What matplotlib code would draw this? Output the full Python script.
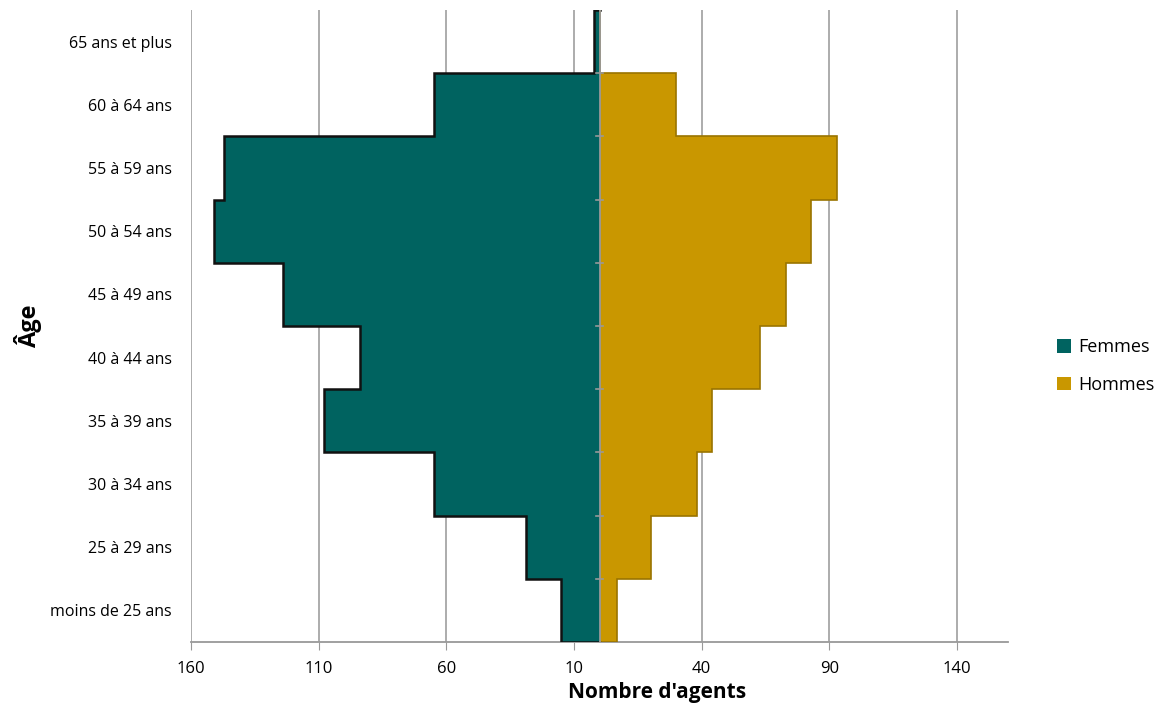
import matplotlib.pyplot as plt
import numpy as np

# Age groups, bottom to top
ages = ['moins de 25 ans', '25 à 29 ans', '30 à 34 ans', '35 à 39 ans', '40 à 44 ans',
        '45 à 49 ans', '50 à 54 ans', '55 à 59 ans', '60 à 64 ans', '65 ans et plus']
femmes = [15, 29, 65, 108, 94, 124, 151, 147, 65, 2]
hommes = [7, 20, 38, 44, 63, 73, 83, 93, 30, 0]

x_ticks = [-160, -110, -60, -10, 40, 90, 140]

plt.rcParams['font.family'] = ['Open Sans', 'DejaVu Sans']

fig = plt.figure(figsize=(11.6, 7.08), dpi=100)
ax = fig.add_axes([0.1647, 0.0932, 0.7043, 0.8927])

y = np.arange(len(ages))
f_neg = -np.array(femmes)
h_pos = np.array(hommes)

# Femmes on the left (negative), Hommes on the right
ax.barh(y, f_neg, height=1.0, color='#006360', linewidth=0, label='Femmes', zorder=3)
ax.barh(y, h_pos, height=1.0, color='#c99700', linewidth=0, label='Hommes', zorder=3)


def outline(vals):
    # stepped outer contour of the stacked age bars
    xs, ys = [0], [-0.5]
    for i, v in enumerate(vals):
        xs += [v, v]
        ys += [i - 0.5, i + 0.5]
    xs.append(0)
    ys.append(len(vals) - 0.5)
    return xs, ys


fx, fy = outline(f_neg)
ax.plot(fx, fy, color='#111111', linewidth=1.8, zorder=4, solid_joinstyle='miter')
hx, hy = outline(h_pos)
ax.plot(hx, hy, color='#9a7400', linewidth=1.2, zorder=4, solid_joinstyle='miter')

ax.set_xlim(-160, 160)
ax.set_ylim(-0.5, len(ages) - 0.5)
ax.set_xticks(x_ticks)
ax.set_xticklabels([str(abs(v)) for v in x_ticks], fontsize=12)
ax.set_yticks(y)
ax.set_yticklabels(ages, fontsize=11.5)
ax.tick_params(axis='y', length=0, pad=14)
ax.tick_params(axis='x', length=6, color='#999999', pad=8)

ax.grid(axis='x', color='#a6a6a6', linewidth=1.3, zorder=0)
ax.axvline(0, color='#999999', linewidth=1.3, zorder=5)
for b in np.arange(0.5, len(ages) - 1, 1.0):
    ax.plot([-1.5, 1.5], [b, b], color='#999999', linewidth=1.2, zorder=5)

for s in ['top', 'right', 'left']:
    ax.spines[s].set_visible(False)
ax.spines['bottom'].set_color('#999999')
ax.spines['bottom'].set_linewidth(1.3)

ax.set_xlabel("Nombre d'agents", fontsize=15, fontweight='bold')
ax.xaxis.set_label_coords(0.57, -0.063)
ax.set_ylabel('Âge', fontsize=17, fontweight='bold')
ax.yaxis.set_label_coords(-0.182, 0.5)

ax.legend(loc='center left', bbox_to_anchor=(1.04, 0.437), frameon=False,
          fontsize=13, handlelength=0.8, handleheight=0.8, labelspacing=1.1,
          handletextpad=0.4)

plt.savefig('out.png', dpi=100)
